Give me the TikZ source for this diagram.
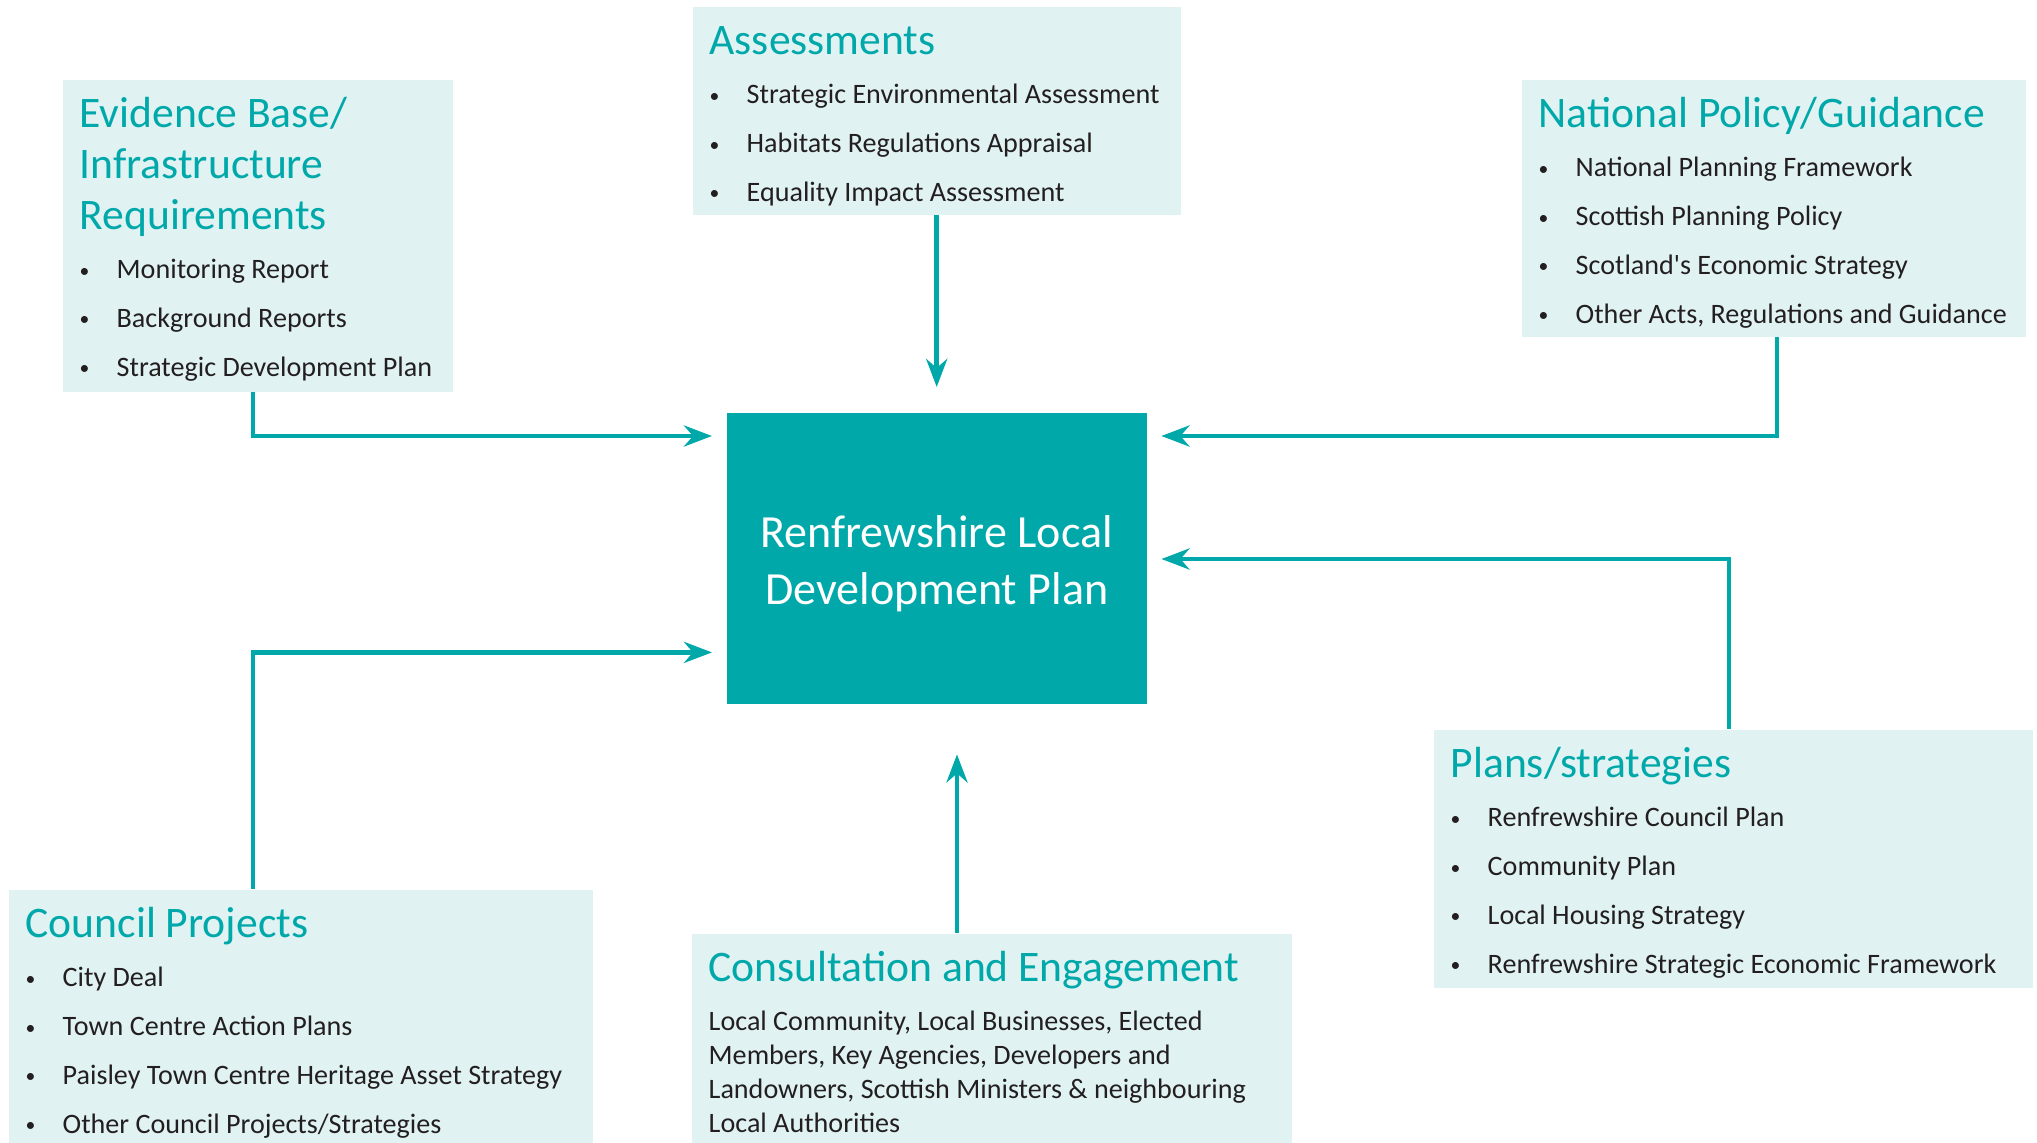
\documentclass[tikz,border=0pt]{standalone}
\usepackage{fontspec}
\setmainfont{Carlito}
\definecolor{ldpteal}{RGB}{0,168,170}
\definecolor{panelbg}{RGB}{224,242,242}
\definecolor{bodyink}{RGB}{35,31,32}
\usetikzlibrary{arrows.meta, calc}

% panel contents: fixed-size box, text hung from the top
\newcommand{\panelbox}[3]{\parbox[t][#2][t]{#1}{#3}}
\newcommand{\panelhead}[1]{{\color{ldpteal}\fontsize{12.4}{14.5}\selectfont\rule{0pt}{0.48cm}#1\par}}
\newcommand{\pitem}[1]{{\fontsize{8}{13.9}\selectfont\makebox[0.37cm][l]{\raisebox{0.4pt}{\scalebox{0.7}{\textbullet}}}#1\par}}

\begin{document}
\begin{tikzpicture}[
    panel/.style={fill=panelbg, anchor=north west, inner xsep=0.17cm, inner ysep=0pt, text=bodyink, align=left},
    ldpbox/.style={fill=ldpteal, text=white, anchor=north west, minimum width=4.20cm, minimum height=2.91cm,
      inner sep=0pt, align=center, font=\fontsize{13.1}{16.2}\selectfont},
    flow/.style={draw=ldpteal, line width=1.4pt, -{Stealth[length=0.28cm, width=0.21cm, inset=0.09cm]}}
  ]
  \useasboundingbox (0,0) rectangle (20.37,-11.43);

  % Plan in the middle
  \node[ldpbox] (ldp) at (7.26,-4.12) {\rule{0pt}{12.3pt}Renfrewshire Local\\Development Plan};

  % Inputs
  \node[panel] (evid) at (0.62,-0.79) {\panelbox{3.56cm}{3.12cm}{%
    \panelhead{Evidence Base/\\Infrastructure\\Requirements}
    \pitem{Monitoring Report}
    \pitem{Background Reports}
    \pitem{Strategic Development Plan}}};

  \node[panel] (assess) at (6.92,-0.06) {\panelbox{4.54cm}{2.08cm}{%
    \panelhead{Assessments}
    \pitem{Strategic Environmental Assessment}
    \pitem{Habitats Regulations Appraisal}
    \pitem{Equality Impact Assessment}}};

  \node[panel] (natl) at (15.21,-0.79) {\panelbox{4.70cm}{2.57cm}{%
    \panelhead{National Policy/Guidance}
    \pitem{National Planning Framework}
    \pitem{Scottish Planning Policy}
    \pitem{Scotland\textquotesingle s Economic Strategy}
    \pitem{Other Acts, Regulations and Guidance}}};

  \node[panel] (plans) at (14.33,-7.29) {\panelbox{5.65cm}{2.58cm}{%
    \panelhead{Plans/strategies}
    \pitem{Renfrewshire Council Plan}
    \pitem{Community Plan}
    \pitem{Local Housing Strategy}
    \pitem{Renfrewshire Strategic Economic Framework}}};

  \node[panel] (council) at (0.08,-8.89) {\panelbox{5.50cm}{2.70cm}{%
    \panelhead{Council Projects}
    \pitem{City Deal}
    \pitem{Town Centre Action Plans}
    \pitem{Paisley Town Centre Heritage Asset Strategy}
    \pitem{Other Council Projects/Strategies}}};

  \node[panel] (consult) at (6.91,-9.33) {\panelbox{5.66cm}{2.30cm}{%
    \panelhead{Consultation and Engagement}
    \vspace{4.3pt}
    {\fontsize{8}{9.64}\selectfont Local Community, Local Businesses, Elected\\
      Members, Key Agencies, Developers and\\
      Landowners, Scottish Ministers \& neighbouring\\
      Local Authorities\par}}};

  % Connectors into the plan
  \coordinate (cin) at ([xshift=2.66cm]consult.north west);
  \draw[flow, shorten >=0.14cm] ([xshift=1.91cm]evid.south west) |- ([yshift=-0.24cm]ldp.north west);
  \draw[flow, shorten >=0.25cm] (assess.south) -- (ldp.north);
  \draw[flow, shorten >=0.14cm] ([xshift=2.56cm]natl.south west) |- ([yshift=-0.24cm]ldp.north east);
  \draw[flow, shorten >=0.14cm] ([xshift=2.96cm]plans.north west) |- ([yshift=-1.47cm]ldp.north east);
  \draw[flow, shorten >=0.14cm] ([xshift=2.45cm]council.north west) |- ([yshift=0.52cm]ldp.south west);
  \draw[flow, shorten >=0.50cm] (cin) -- (cin |- ldp.south);
\end{tikzpicture}
\end{document}
